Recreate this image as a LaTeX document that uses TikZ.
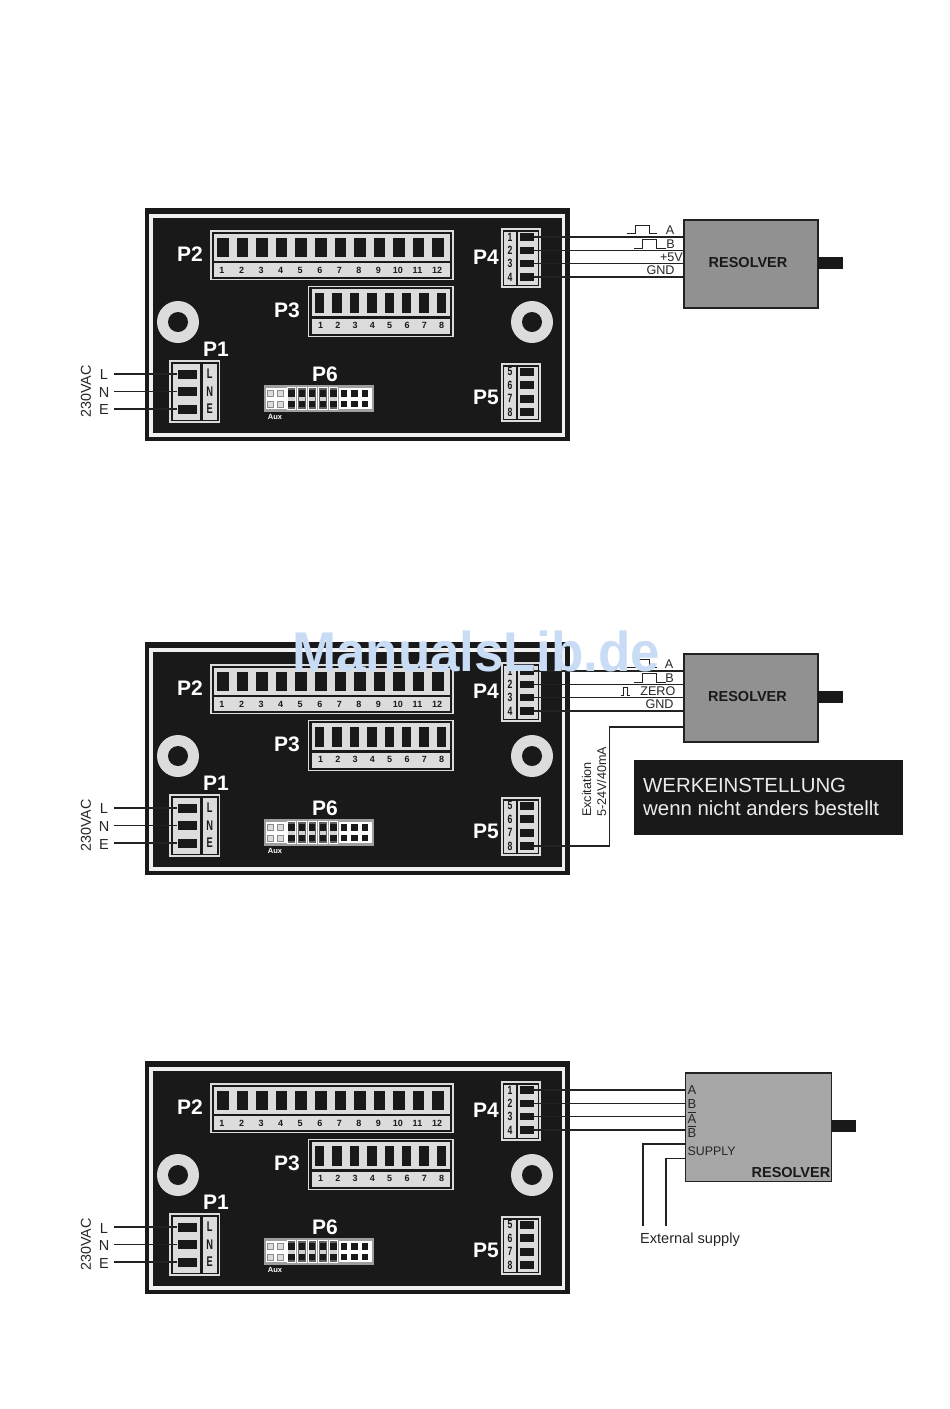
\documentclass[tikz,border=0pt]{standalone}
\usepackage{fontspec}
\setmainfont{Liberation Sans}
\newcommand\fsz[1]{\fontsize{#1}{#1}\selectfont}
\newcommand\ovl[1]{\leavevmode\setbox0\hbox{#1}\rlap{\raise 10.6pt\hbox{\rule{\wd0}{0.9pt}}}#1}
\definecolor{bk}{HTML}{191919}
\definecolor{lg}{HTML}{DCDCDC}
\definecolor{wire}{HTML}{222222}
\definecolor{wmark}{HTML}{C8DCF5}
\tikzset{
 x=1pt,y=-1pt,
 slot/.style={rectangle,fill=bk,inner sep=0pt,minimum width=#1},
 pinbox/.style={rectangle,draw=lg,line width=1.6pt,fill=bk},
 graybox/.style={fill=lg},
 plabel/.style={text=white,font=\fsz{21}\bfseries,inner sep=0pt},
 numh/.style={text=bk,font=\fsz{9}\bfseries,inner sep=0pt},
 numv/.style={text=bk,font=\fsz{12}\bfseries,inner sep=0pt,xscale=.72,transform shape},
 ext/.style={text=black!85,font=\fsz{14.3},inner sep=0pt},
 small/.style={text=black!85,font=\fsz{12.6},inner sep=0pt},
 wirel/.style={draw=wire,line width=1.6pt},
 pulse/.style={draw=wire,line width=1pt},
 resolver/.style={rectangle,draw=wire,line width=1.4pt,inner sep=0pt},
 shaft/.style={fill=bk},
 hole/.style={circle,fill=lg,inner sep=0pt,minimum size=42pt},
 holein/.style={circle,fill=bk,inner sep=0pt,minimum size=20pt},
 pin/.style={rectangle,fill=bk,inner sep=0pt,minimum size=6.5pt},
 auxpin/.style={rectangle,fill=lg,draw=black!45,line width=.5pt,inner sep=0pt,minimum size=6pt},
}
\newcommand\board[2]{%
 \begin{scope}[shift={(0,#2)}]
  \fill[bk] (145,208) rectangle (570,441);
  \draw[white!94!black,line width=3.8pt] (151,216) rectangle (563.5,435);
  % P2
  \draw[pinbox] (210.8,230.8) rectangle (452.8,279.5);
  \fill[lg] (213.5,233.5) rectangle (450,276.8);
  \fill[bk] (213.5,260.7) rectangle (450,263.2);
  \foreach \i in {1,...,12}{
   \node[slot=11.5pt,minimum height=19pt] (#1ptwo\i) at ({223+(\i-1)*19.55},247.2) {};
   \node[numh] (#1ptwon\i) at ({222+(\i-1)*19.55},270) {\i};
  }
  \node[plabel] (#1ltwo) at (190,254.5) {P2};
  % P3
  \draw[pinbox] (308.4,286.4) rectangle (452.8,336.6);
  \fill[lg] (311.5,289.3) rectangle (450,333.5);
  \fill[bk] (311.5,316) rectangle (450,319.2);
  \foreach \i in {1,...,8}{
   \node[slot=9.5pt,minimum height=19.4pt] (#1pthree\i) at ({319.7+(\i-1)*17.4},303) {};
   \node[numh] (#1pthreen\i) at ({320.5+(\i-1)*17.3},325.3) {\i};
  }
  \node[plabel] (#1lthree) at (287,310.5) {P3};
  % P4
  \draw[pinbox] (501.8,229) rectangle (540.2,287);
  \fill[lg] (504,231.5) rectangle (538,284.5);
  \fill[bk] (516,231.5) rectangle (518.3,284.5);
  \foreach \i/\yy in {1/237,2/250.5,3/263.5,4/277}{
   \node[slot=14pt,minimum height=7.6pt] (#1pfour\i) at (527,\yy) {};
   \node[numv] (#1pfourn\i) at (510,\yy) {\i};
  }
  \node[plabel] (#1lfour) at (486,257.5) {P4};
  % P5
  \draw[pinbox] (501.8,364) rectangle (540.2,421);
  \fill[lg] (504,366.5) rectangle (538,418.5);
  \fill[bk] (516,366.5) rectangle (518.3,418.5);
  \foreach \i/\n/\yy in {1/5/371.7,2/6/385,3/7/398.7,4/8/412}{
   \node[slot=14pt,minimum height=7.6pt] (#1pfive\i) at (527,\yy) {};
   \node[numv] (#1pfiven\i) at (510,\yy) {\n};
  }
  \node[plabel] (#1lfive) at (486,397.5) {P5};
  % holes
  \node[hole] (#1ha) at (178,322) {};
  \node[holein] (#1hai) at (178,322) {};
  \node[hole] (#1hb) at (532,322) {};
  \node[holein] (#1hbi) at (532,322) {};
  % P1
  \draw[pinbox] (170,360.8) rectangle (219.5,421.8);
  \fill[lg] (172.5,363.5) rectangle (199.5,419.5);
  \fill[lg] (202.8,363.5) rectangle (216.8,419.5);
  \foreach \t/\yy [count=\i] in {L/374,N/391.5,E/409}{
   \node[slot=19pt,minimum height=9pt] (#1pone\i) at (187,\yy) {};
   \node[numv,font=\fsz{14}\bfseries,xscale=.92] (#1ponen\i) at (209.8,\yy) {\t};
   \node[ext,font=\fsz{14.5},anchor=center] (#1mains\i) at (104,{\yy+1}) {\t};
   \coordinate (#1wstart\i) at (114,\yy);
   \draw[wirel] (#1wstart\i) -- (#1pone\i.west);
  }
  \node[ext,rotate=90] (#1vac) at (86,391.5) {230VAC};
  \node[plabel] (#1lone) at (216,349.5) {P1};
  % P6
  \fill[black!38] (263.5,385) rectangle (373.5,411.5);
  \fill[white] (266,388) rectangle (287.3,409);
  \fill[white] (338.5,388) rectangle (371.5,409);
  \foreach \xx [count=\i] in {270,280.7}{
   \node[auxpin] (#1auxa\i) at (\xx,393.5) {};
   \node[auxpin] (#1auxb\i) at (\xx,404) {};
  }
  \foreach \xx [count=\i] in {291.3,301.8,312.2,322.8,333.3}{
   \draw[white,fill=black!62,line width=.8pt] ({\xx-4.3},387.5) rectangle ({\xx+4.3},409.5);
   \fill[black!18] ({\xx-3.2},396.5) rectangle ({\xx+3.2},401);
  }
  \foreach \xx [count=\i] in {291.3,301.8,312.2,322.8,333.3,344,354.7,365}{
   \node[pin] (#1pinsa\i) at (\xx,393.5) {};
   \node[pin] (#1pinsb\i) at (\xx,404) {};
  }
  \node[text=white,font=\fsz{7.5}\bfseries,inner sep=0pt] (#1aux) at (275,416.5) {Aux};
  \node[plabel] (#1lsix) at (325,374.5) {P6};
 \end{scope}}
\newcommand\pulseat[4]{\draw[pulse] (#1,#2) -- ++(#3,0) -- ++(0,-8.5) -- ++(14,0) -- ++(0,8.5) -- ++(#4,0);}
\begin{document}
\begin{tikzpicture}
\useasboundingbox (0,0) rectangle (950,1409);
\fill[white] (0,0) rectangle (950,1409);
\board{a}{0}
\board{b}{434}
\board{c}{853}
% --- Resolver 1
\node[resolver,fill=black!43,minimum width=134pt,minimum height=88pt] (resa) at (751,264) {};
\node[text=bk,font=\fsz{14.5}\bfseries,inner sep=0pt] (resat) at (748,262.5) {RESOLVER};
\fill[shaft] (818,257) rectangle (843,269);
\foreach \i in {1,...,4}{\draw[wirel] (apfour\i.east) -- (apfour\i.center -| resa.west);}
\pulseat{626.7}{233.5}{8.5}{8}
\pulseat{634}{248}{8.7}{9}
\node[small] (aA) at (670,230.3) {A};
\node[small] (aB) at (670.5,244) {B};
\node[small,anchor=east] (aV) at (683,257.2) {+5V};
\node[small] (aG) at (660.5,270.5) {GND};
% --- Resolver 2
\node[resolver,fill=black!43,minimum width=134pt,minimum height=88pt] (resb) at (751,698) {};
\node[text=bk,font=\fsz{14.5}\bfseries,inner sep=0pt] (resbt) at (747.5,696.5) {RESOLVER};
\fill[shaft] (818,691) rectangle (843,703);
\foreach \i in {1,...,4}{\draw[wirel] (bpfour\i.east) -- (bpfour\i.center -| resb.west);}
\pulseat{626.7}{667.5}{8.5}{8}
\pulseat{634}{682}{8.7}{9}
\draw[pulse] (620.5,695.5) -- ++(3,0) -- ++(0,-8.5) -- ++(3.5,0) -- ++(0,8.5) -- ++(3,0);
\node[small] (bA) at (669,664.3) {A};
\node[small] (bB) at (669.5,678) {B};
\node[small,anchor=east] (bZ) at (675.5,691.5) {ZERO};
\node[small] (bG) at (659.5,704.5) {GND};
\coordinate (excorner) at (609.3,726.7);
\draw[wirel] (bpfive4.east) -| (excorner) -- (excorner -| resb.west);
\node[small,rotate=90,anchor=west] (bex) at (586.5,817) {Excitation};
\node[small,rotate=90,anchor=west] (bexb) at (601.5,817) {5-24V/40mA};
\node[rectangle,fill=bk,inner sep=0pt,minimum width=269pt,minimum height=75pt] (werk) at (768.5,797.5) {};
\node[text=white!92!black,font=\fsz{20.4},inner sep=0pt,anchor=west] (werka) at (643,785) {WERKEINSTELLUNG};
\node[text=white!92!black,font=\fsz{20.4},inner sep=0pt,anchor=west] (werkb) at (643,808) {wenn nicht anders bestellt};
% --- Resolver 3
\node[resolver,fill=black!35,minimum width=146pt,minimum height=108.5pt] (resc) at (758.5,1127.3) {};
\fill[shaft] (831.7,1120) rectangle (856,1132);
\foreach \i in {1,...,4}{\draw[wirel] (cpfour\i.east) -- (cpfour\i.center -| resc.west);}
\node[small,anchor=west,font=\fsz{13}] (cA) at (687.5,1090) {A};
\node[small,anchor=west,font=\fsz{13}] (cB) at (687.5,1104) {B};
\node[small,anchor=west,font=\fsz{13}] (cAb) at (687.5,1118) {\ovl{A}};
\node[small,anchor=west,font=\fsz{13}] (cBb) at (687.5,1132) {\ovl{B}};
\node[small,anchor=west,font=\fsz{12.4}] (cS) at (687.5,1151) {SUPPLY};
\node[text=bk,font=\fsz{14.5}\bfseries,inner sep=0pt,anchor=east] (resct) at (830.5,1172) {RESOLVER};
\coordinate (supa) at (642.7,1225.7);
\coordinate (supb) at (665.7,1225.7);
\draw[wirel] (supa) -- (supa |- 0,1144) -- (resc.west |- 0,1144);
\draw[wirel] (supb) -- (supb |- 0,1158.3) -- (resc.west |- 0,1158.3);
\node[ext,font=\fsz{14.6}] (cext) at (690,1240) {External supply};
% watermark
\node[text=wmark,font=\fsz{56}\bfseries,inner sep=0pt,xscale=.945,transform shape] (wm) at (476,651) {ManualsLib.de};
\end{tikzpicture}
\end{document}
